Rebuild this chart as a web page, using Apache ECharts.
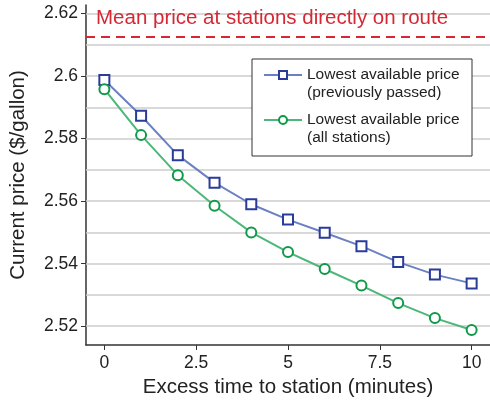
<!DOCTYPE html>
<html><head><meta charset="utf-8">
<script src="https://cdn.jsdelivr.net/npm/echarts@6/dist/echarts.min.js"></script>
<style>html,body{margin:0;padding:0;background:#fff}#c{width:490px;height:401px}</style>
</head><body><div id="c"></div>
<script>
const minutes = [0,1,2,3,4,5,6,7,8,9,10];
const previouslyPassed = [2.5987,2.5873,2.5747,2.5659,2.5590,2.5541,2.5499,2.5456,2.5405,2.5365,2.5337];
const allStations = [2.5958,2.5811,2.5683,2.5585,2.5500,2.5437,2.5383,2.5330,2.5274,2.5226,2.5188];
const meanOnRoute = 2.6126;
const yTickValues = [2.52,2.54,2.56,2.58,2.60,2.62];
const yTickLabels = ['2.52','2.54','2.56','2.58','2.6','2.62'];
const yGridValues = [2.52,2.53,2.54,2.55,2.56,2.57,2.58,2.59,2.60,2.61,2.62];
const xTickValues = [0,2.5,5,7.5,10];
const xTickLabels = ['0','2.5','5','7.5','10'];
const names = ['Lowest available price\n(previously passed)','Lowest available price\n(all stations)'];
const meanLabel = 'Mean price at stations directly on route';

const font = 'Liberation Sans, Arial, Helvetica, sans-serif';
const chart = echarts.init(document.getElementById('c'), null, {renderer:'canvas'});
chart.setOption({
  animation:false,
  textStyle:{fontFamily:font},
  grid:{left:86,right:0,top:5,bottom:56,containLabel:false,outerBoundsMode:'none'},
  graphic:[{type:'rect',z:50,shape:{x:252,y:59,width:220,height:97},
    style:{fill:'#fff',stroke:'#333',lineWidth:1}}],
  legend:{
    orient:'vertical', left:263, top:48, padding:0, itemGap:-9,
    itemWidth:38, itemHeight:10, z:60,
    textStyle:{fontFamily:font,fontSize:15.5,color:'#222',lineHeight:18},
    formatter:n=>' \n'+n,
    data:names
  },
  xAxis:{
    type:'value', min:-0.5, max:10.5,
    name:'Excess time to station (minutes)', nameLocation:'middle', nameGap:27,
    nameTextStyle:{fontFamily:font,fontSize:20.5,color:'#222'},
    axisLine:{onZero:false,lineStyle:{color:'#333',width:1.5}},
    axisTick:{show:true,length:5,customValues:xTickValues,lineStyle:{color:'#333'}},
    axisLabel:{customValues:xTickValues,fontSize:17.5,color:'#222',margin:9,fontFamily:font,
      formatter:v=>xTickLabels[xTickValues.indexOf(v)] ?? ''},
    splitLine:{show:false}
  },
  yAxis:{
    type:'value', min:2.514, max:2.6227,
    name:'Current price ($/gallon)', nameLocation:'middle', nameGap:57,
    nameTextStyle:{fontFamily:font,fontSize:20.5,color:'#222'},
    axisLine:{show:true,onZero:false,lineStyle:{color:'#333',width:1.5}},
    axisTick:{show:true,length:5,customValues:yTickValues,lineStyle:{color:'#333'}},
    axisLabel:{customValues:yTickValues,fontSize:17.5,color:'#222',margin:8,fontFamily:font,
      formatter:v=>{const i=yTickValues.findIndex(t=>Math.abs(t-v)<1e-6);return i>=0?yTickLabels[i]:'';}},
    splitLine:{show:false}
  },
  series:[
    {
      type:'line', name:'grid', silent:true, data:[], z:1,
      markLine:{silent:true,symbol:'none',precision:4,label:{show:false},
        lineStyle:{color:'#cccccc',type:'solid',width:1.6},
        data:yGridValues.map(v=>({yAxis:v}))}
    },
    {
      type:'line', name:'mean', silent:true, data:[], z:3,
      markLine:{silent:true,symbol:'none',precision:4,
        lineStyle:{color:'#d62834',type:[9,6],width:2.2},
        label:{show:true,position:'insideStartTop',distance:[10,8],formatter:meanLabel,
          color:'#d62834',fontSize:20.5,fontFamily:font},
        data:[{yAxis:meanOnRoute}]}
    },
    {
      type:'line', name:names[0], data:minutes.map((m,i)=>[m,previouslyPassed[i]]), z:5,
      symbol:'emptyRect', symbolSize:10, showAllSymbol:true,
      lineStyle:{color:'#6b80c2',width:2},
      itemStyle:{color:'#2a3c9a',borderWidth:2.4}
    },
    {
      type:'line', name:names[1], data:minutes.map((m,i)=>[m,allStations[i]]), z:5,
      symbol:'emptyCircle', symbolSize:10, showAllSymbol:true,
      lineStyle:{color:'#4cb779',width:2},
      itemStyle:{color:'#0e9a48',borderWidth:2.4}
    }
  ]
});
</script></body></html>
